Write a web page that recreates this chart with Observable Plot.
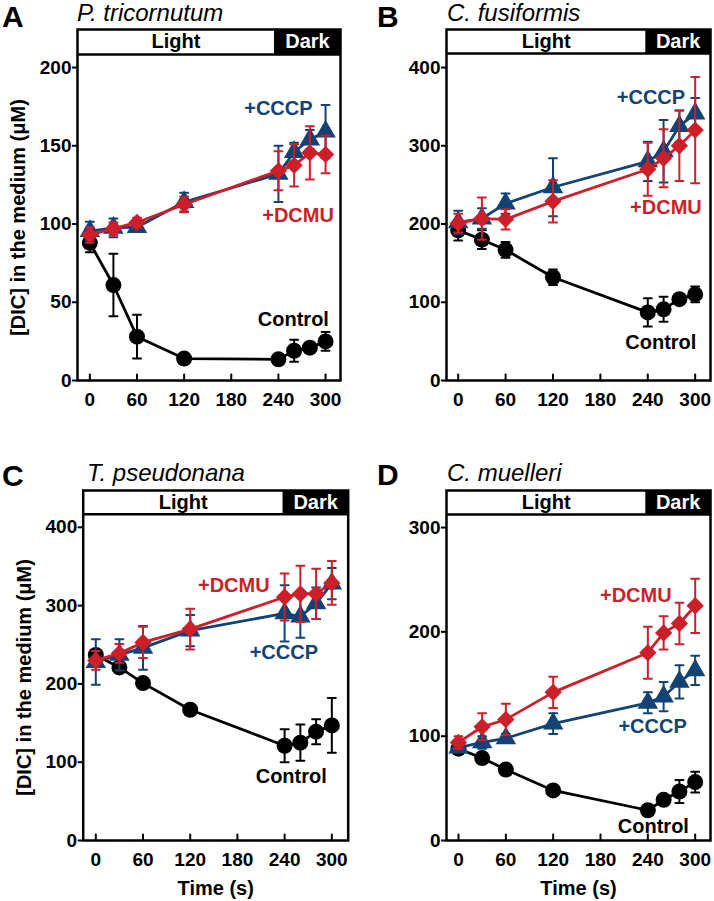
<!DOCTYPE html>
<html>
<head>
<meta charset="utf-8">
<script src="https://cdn.jsdelivr.net/npm/d3@7"></script>
<script src="https://cdn.jsdelivr.net/npm/@observablehq/plot@0.6"></script>
<style>
  html, body { margin: 0; padding: 0; background: #fff; }
  #fig { position: relative; width: 714px; height: 901px; background: #fff; font-family: "Liberation Sans", Arial, sans-serif; }
  .panel { position: absolute; }
  .letter { position: absolute; font-size: 30px; font-weight: bold; line-height: 1.1; color: #000; }
  .species { position: absolute; font-size: 24px; font-style: italic; line-height: 1; color: #000; white-space: nowrap; }
</style>
</head>
<body>
<div id="fig"></div>
<script>
// ---- data ----
const times = [0, 30, 60, 120, 240, 260, 280, 300];
const xTicks = [0, 60, 120, 180, 240, 300];

// Panel A: P. tricornutum
const ctrlA = [88, 61, 28, 14, 13.5, 19, 21, 25];
const ctrlAErr = [6, 20, 14, 2, 2, 7, 3, 6];
const cccpA = [95.5, 97.5, 98, 114, 132, 146, 154, 159];
const cccpAErr = [6, 6, 3, 6, 18, 6, 6, 17];
const dcmuA = [93, 97, 101, 112.5, 134, 137.5, 145.5, 144.5];
const dcmuAErr = [5, 4, 3, 5, 12.5, 13.5, 17, 12];
const yTicksA = [0, 50, 100, 150, 200];

// Panel B: C. fusiformis
const ctrlB = [192, 180, 167, 132, 87, 91, 104, 110];
const ctrlBErr = [13, 12, 10, 10, 18, 16, 6, 10];
const cccpB = [202, 207, 226, 247, 280, 293, 325, 341];
const cccpBErr = [15, 13, 13, 37, 25, 40, 20, 20];
const dcmuB = [201, 207, 206, 229, 270, 284, 300, 320];
const dcmuBErr = [12, 27, 13, 27, 34, 37, 45, 68];
const yTicksB = [0, 100, 200, 300, 400];

// Panel C: T. pseudonana
const ctrlC = [237, 221, 201, 167, 121, 125, 139, 147];
const ctrlCErr = [6, 7, 6, 5, 21, 23, 16, 35];
const cccpC = [228, 237, 246, 268, 290, 286, 303, 328];
const cccpCErr = [29, 20, 28, 20, 36, 27, 20, 20];
const dcmuC = [230, 239, 253, 270, 311, 315, 315, 329];
const dcmuCErr = [12, 12, 20, 26, 30, 36, 32, 28];
const yTicksC = [0, 100, 200, 300, 400];

// Panel D: C. muelleri
const ctrlD = [88, 79, 68, 48, 29, 39, 47, 56];
const ctrlDErr = [4, 3, 5, 5, 5, 4, 11, 10];
const cccpD = [89, 94, 98, 112, 132, 138, 152, 163];
const cccpDErr = [4, 6, 4, 10, 10, 14, 16, 14];
const dcmuD = [94, 109, 116, 142, 180, 199, 208, 225];
const dcmuDErr = [6, 13, 15, 15, 25, 16, 20, 26];
const yTicksD = [0, 100, 200, 300];

const letters = ["A", "B", "C", "D"];
const species = ["P. tricornutum", "C. fusiformis", "T. pseudonana", "C. muelleri"];
const seriesNames = ["Control", "+CCCP", "+DCMU"];

// ---- styles ----
const BLACK = "#000000";
const BLUE = "#134274";
const RED = "#cc1f2a";
const FONT = "Liberation Sans, Arial, Helvetica, sans-serif";

const lineShape = { draw(context, l) { context.moveTo(0, 0); context.lineTo(0, -l); } };

function rows(vals, errs) {
  return times.map((t, i) => ({ t, v: vals[i], e: errs[i] }));
}

const panels = [
  { letter: letters[0], species: species[0], left: 0, top: 0, w: 357, h: 410, mt: 29, mb: 30, ml: 77, mr: 17,
    xd: [-15.7, 319], yTop: 224.3, barBottom: 208.3, boundary: 235, yTicks: yTicksA,
    data: [rows(ctrlA, ctrlAErr), rows(cccpA, cccpAErr), rows(dcmuA, dcmuAErr)],
    labels: [[259, 38.8], [240, 174], [265, 105.4]], ylabel: true, xlabel: false,
    letterPos: [2, 0], speciesPos: [77, 1] },
  { letter: letters[1], species: species[1], left: 357, top: 0, w: 357, h: 410, mt: 29, mb: 30, ml: 89, mr: 4,
    xd: [-14.8, 319.4], yTop: 448.6, barBottom: 418, boundary: 237.5, yTicks: yTicksB,
    data: [rows(ctrlB, ctrlBErr), rows(cccpB, cccpBErr), rows(dcmuB, dcmuBErr)],
    labels: [[256.5, 49], [244, 362], [263, 221]], ylabel: false, xlabel: false,
    letterPos: [377, 0], speciesPos: [447, 1] },
  { letter: letters[2], species: species[2], left: 0, top: 440, w: 357, h: 461, mt: 50, mb: 61, ml: 82.7, mr: 9.3,
    xd: [-16, 320.8], yTop: 447, barBottom: 416.6, boundary: 238, yTicks: yTicksC,
    data: [rows(ctrlC, ctrlCErr), rows(cccpC, cccpCErr), rows(dcmuC, dcmuCErr)],
    labels: [[248.4, 81], [239, 240.6], [175.4, 326]], ylabel: true, xlabel: true,
    letterPos: [2, 459], speciesPos: [87, 461] },
  { letter: letters[3], species: species[3], left: 357, top: 440, w: 357, h: 461, mt: 50, mb: 61, ml: 89, mr: 4,
    xd: [-15.2, 319.4], yTop: 335.5, barBottom: 312.5, boundary: 237.4, yTicks: yTicksD,
    data: [rows(ctrlD, ctrlDErr), rows(cccpD, cccpDErr), rows(dcmuD, dcmuDErr)],
    labels: [[247, 13.4], [246, 109], [224.7, 234.8]], ylabel: false, xlabel: true,
    letterPos: [377, 458], speciesPos: [447, 461] }
];

const seriesStyle = [
  { color: BLACK, symbol: "circle", r: 8 },
  { color: BLUE, symbol: "triangle", r: 7.6 },
  { color: RED, symbol: "diamond2", r: 7.8 }
];

const fig = document.getElementById("fig");

for (const p of panels) {
  const marks = [];
  // light/dark bar
  marks.push(Plot.rect([{ x1: p.xd[0], x2: p.boundary, y1: p.barBottom, y2: p.yTop }],
    { x1: "x1", x2: "x2", y1: "y1", y2: "y2", fill: "white" }));
  marks.push(Plot.rect([{ x1: p.boundary, x2: p.xd[1], y1: p.barBottom, y2: p.yTop }],
    { x1: "x1", x2: "x2", y1: "y1", y2: "y2", fill: "black" }));
  marks.push(Plot.ruleY([p.barBottom], { stroke: "black", strokeWidth: 2.5 }));
  marks.push(Plot.text([{ x: (p.xd[0] + p.boundary) / 2, y: (p.barBottom + p.yTop) / 2, s: "Light" }],
    { x: "x", y: "y", text: "s", fill: "black", fontSize: 20, fontWeight: "bold", lineAnchor: "middle" }));
  marks.push(Plot.text([{ x: (p.boundary + p.xd[1]) / 2, y: (p.barBottom + p.yTop) / 2, s: "Dark" }],
    { x: "x", y: "y", text: "s", fill: "white", fontSize: 20, fontWeight: "bold", lineAnchor: "middle" }));

  // series
  p.data.forEach((d, i) => {
    const st = seriesStyle[i];
    marks.push(Plot.line(d, { x: "t", y: "v", stroke: st.color, strokeWidth: 2.8 }));
    marks.push(Plot.ruleX(d, { x: "t", y1: r => r.v - r.e, y2: r => r.v + r.e, stroke: st.color, strokeWidth: 2 }));
    marks.push(Plot.vector(d, { x: "t", y: r => r.v + r.e, length: 8, rotate: 90, anchor: "middle", shape: lineShape, stroke: st.color, strokeWidth: 2 }));
    marks.push(Plot.vector(d, { x: "t", y: r => r.v - r.e, length: 8, rotate: 90, anchor: "middle", shape: lineShape, stroke: st.color, strokeWidth: 2 }));
    marks.push(Plot.dot(d, { x: "t", y: "v", symbol: () => st.symbol, r: st.r, fill: st.color, stroke: "none" }));
  });

  // series labels
  p.labels.forEach((pos, i) => {
    marks.push(Plot.text([{ x: pos[0], y: pos[1], s: seriesNames[i] }],
      { x: "x", y: "y", text: "s", fill: seriesStyle[i].color, fontSize: 20, fontWeight: "bold", lineAnchor: "middle", textAnchor: "middle" }));
  });

  // inward x ticks
  marks.push(Plot.vector(xTicks, { x: d => d, y: () => 0, length: 6, anchor: "start", shape: lineShape, stroke: "black", strokeWidth: 2 }));

  // axes
  marks.push(Plot.axisY({ ticks: p.yTicks, tickSize: 5, tickPadding: 1, tickFormat: d => String(d), label: null, fontSize: 19, fontWeight: "bold", strokeWidth: 2 }));
  marks.push(Plot.axisX({ ticks: xTicks, tickSize: 0, tickPadding: 12, tickFormat: d => String(d), label: null, fontSize: 19, fontWeight: "bold" }));

  if (p.ylabel) {
    marks.push(Plot.text([{ x: p.xd[0], y: p.barBottom / 2, s: "[DIC] in the medium (μM)" }],
      { x: "x", y: "y", text: "s", rotate: -90, dx: -58.5, fill: "black", fontSize: 20, fontWeight: "bold", lineAnchor: "middle", textAnchor: "middle" }));
  }
  if (p.xlabel) {
    marks.push(Plot.text([{ x: (p.xd[0] + p.xd[1]) / 2, y: 0, s: "Time (s)" }],
      { x: "x", y: "y", text: "s", dy: 48, fill: "black", fontSize: 20, fontWeight: "bold", lineAnchor: "middle", textAnchor: "middle" }));
  }

  marks.push(Plot.frame({ stroke: "black", strokeWidth: 2.5 }));

  const chart = Plot.plot({
    width: p.w,
    height: p.h,
    marginTop: p.mt,
    marginBottom: p.mb,
    marginLeft: p.ml,
    marginRight: p.mr,
    x: { domain: p.xd, axis: null },
    y: { domain: [0, p.yTop], axis: null },
    style: { fontFamily: FONT, fontSize: "19px", background: "transparent", overflow: "visible", color: "black" },
    marks
  });
  const wrap = document.createElement("div");
  wrap.className = "panel";
  wrap.style.left = p.left + "px";
  wrap.style.top = p.top + "px";
  wrap.appendChild(chart);
  fig.appendChild(wrap);

  const L = document.createElement("div");
  L.className = "letter";
  L.textContent = p.letter;
  L.style.left = p.letterPos[0] + "px";
  L.style.top = p.letterPos[1] + "px";
  fig.appendChild(L);

  const S = document.createElement("div");
  S.className = "species";
  S.textContent = p.species;
  S.style.left = p.speciesPos[0] + "px";
  S.style.top = p.speciesPos[1] + "px";
  fig.appendChild(S);
}
</script>
</body>
</html>
